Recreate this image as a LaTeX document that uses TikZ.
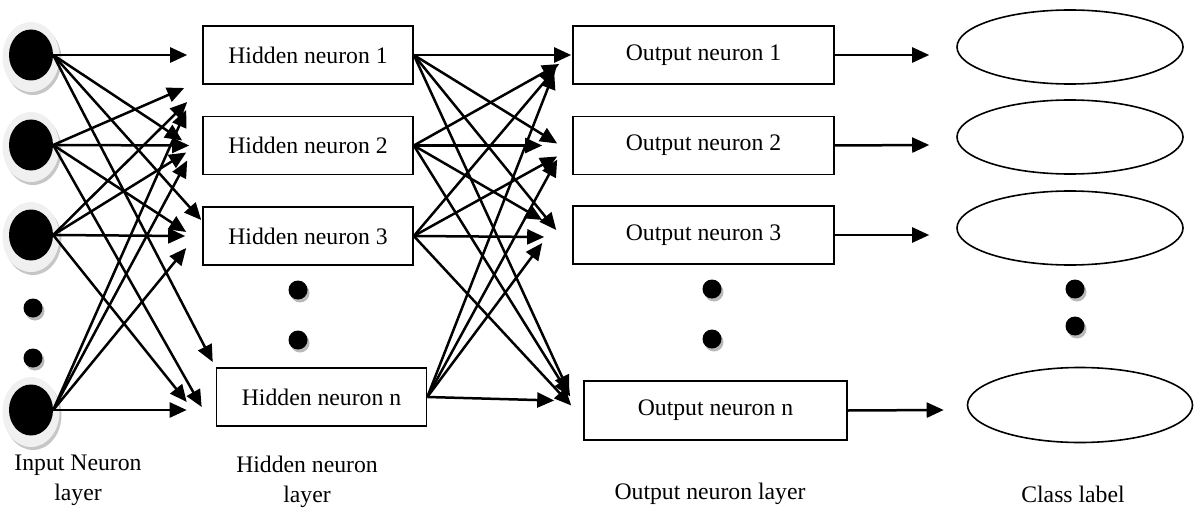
\documentclass[tikz,border=0pt]{standalone}
\usepackage{fontspec}
\setmainfont{Liberation Serif}
\usetikzlibrary{arrows.meta, shapes.geometric, shadows}

\begin{document}
\begin{tikzpicture}[x=1pt, y=-1pt, font=\fontsize{23.7}{30}\selectfont]
\tikzstyle{halo}=[ellipse, minimum width=57pt, minimum height=70pt, fill=gray!12, drop shadow={shadow xshift=2pt, shadow yshift=-3pt, fill=gray!45, opacity=1}]
\tikzstyle{inp}=[ellipse, minimum width=44pt, minimum height=51pt, inner sep=0pt, fill=black]
\tikzstyle{dot}=[circle, minimum size=19pt, inner sep=0pt, fill=black, drop shadow={shadow xshift=2pt, shadow yshift=-3pt, fill=gray!55, opacity=1}]
\tikzstyle{neuron}=[rectangle, draw=black, line width=1.6pt, minimum width=210pt, minimum height=58pt]
\tikzstyle{cls}=[ellipse, draw=black, line width=1.6pt, minimum width=226pt, minimum height=74pt]
\tikzstyle{connect}=[-{Triangle[length=17pt, width=15pt]}, line width=2.5pt]
\tikzstyle{caption}=[align=center]
\useasboundingbox (0,0) rectangle (1198,508);
% input layer
\node[halo] (i1h) at (31,57) {};
\node[halo] (i2h) at (31,147) {};
\node[halo] (i3h) at (31,237) {};
\node[halo] (i4h) at (31,412) {};
\node[inp] (i1) at (31,55) {};
\node[inp] (i2) at (31,145) {};
\node[inp] (i3) at (31,235) {};
\node[inp] (i4) at (31,410) {};
\node[dot] (id1) at (33,308) {};
\node[dot] (id2) at (33,358) {};
\node[caption] (itxt) at (78,480) {Input Neuron\\layer};
% hidden layer
\node[neuron] (h1) at (308,55) {Hidden neuron 1};
\node[neuron] (h2) at (308,145.5) {Hidden neuron 2};
\node[neuron] (h3) at (308,236) {Hidden neuron 3};
\node[neuron] (h4) at (321.5,397) {Hidden neuron n};
\node[dot] (hd1) at (298,290) {};
\node[dot] (hd2) at (298,340) {};
\node[caption] (htxt) at (307,482) {Hidden neuron\\layer};
% output layer
\node[neuron, minimum width=261pt] (o1) at (703.5,55) {Output neuron 1};
\node[neuron, minimum width=261pt] (o2) at (703.5,145.5) {Output neuron 2};
\node[neuron, minimum width=261pt] (o3) at (703.5,235) {Output neuron 3};
\node[neuron, minimum width=263pt, minimum height=59pt] (o4) at (715.5,410.5) {Output neuron n};
\node[dot] (od1) at (712,289) {};
\node[dot] (od2) at (712,339) {};
\node[caption] (otxt) at (710,494) {Output neuron layer};
% class labels
\node[cls] (c1) at (1070,47) {};
\node[cls] (c2) at (1070,137) {};
\node[cls] (c3) at (1070,228) {};
\node[cls, minimum width=225pt, minimum height=75pt] (c4) at (1080,405) {};
\node[dot] (cd1) at (1075,289) {};
\node[dot] (cd2) at (1075,326) {};
\node[caption] (ctxt) at (1073,494) {Class label};
% input -> hidden
\path (i1.east) edge [connect] ([shift={(-15,0)}]h1.west);
\path (i1.east) edge [connect] ([shift={(-20,-5)}]h2.west);
\path (i1.east) edge [connect] ([shift={(-1,-16)}]h3.west);
\path (i1.east) edge [connect] ([shift={(-3,-35)}]h4.west);
\path (i2.east) edge [connect] ([shift={(-18,33)}]h1.west);
\path (i2.east) edge [connect] ([shift={(-13,0)}]h2.west);
\path (i2.east) edge [connect] ([shift={(-16,-4)}]h3.west);
\path (i2.east) edge [connect] ([shift={(-14,10)}]h4.west);
\path (i3.east) edge [connect] ([shift={(-15,47)}]h1.west);
\path (i3.east) edge [connect] ([shift={(-16,7)}]h2.west);
\path (i3.east) edge [connect] ([shift={(-17,0)}]h3.west);
\path (i3.east) edge [connect] ([shift={(-29,5)}]h4.west);
\path (i4.east) edge [connect] ([shift={(-16,55)}]h1.west);
\path (i4.east) edge [connect] ([shift={(-15,15)}]h2.west);
\path (i4.east) edge [connect] ([shift={(-16,12)}]h3.west);
\path (i4.east) edge [connect] ([shift={(-29,13)}]h4.west);
% hidden -> output
\path (h1.east) edge [connect] ([shift={(-1,0)}]o1.west);
\path (h1.east) edge [connect] ([shift={(-15,-2)}]o2.west);
\path (h1.east) edge [connect] ([shift={(-16,-5)}]o3.west);
\path (h1.east) edge [connect] ([shift={(-14,-18)}]o4.west);
\path (h2.east) edge [connect] ([shift={(-13,9)}]o1.west);
\path (h2.east) edge [connect] ([shift={(-30,0)}]o2.west);
\path (h2.east) edge [connect] ([shift={(-30,-15)}]o3.west);
\path (h2.east) edge [connect] ([shift={(-13,-14)}]o4.west);
\path (h3.east) edge [connect] ([shift={(-16,13)}]o1.west);
\path (h3.east) edge [connect] ([shift={(-15,11)}]o2.west);
\path (h3.east) edge [connect] ([shift={(-28,2)}]o3.west);
\path (h3.east) edge [connect] ([shift={(-12,-5)}]o4.west);
\path (h4.east) edge [connect] ([shift={(-18,17)}]o1.west);
\path (h4.east) edge [connect] ([shift={(-15,14)}]o2.west);
\path (h4.east) edge [connect] ([shift={(-30,8)}]o3.west);
\path (h4.east) edge [connect] ([shift={(-29,-10)}]o4.west);
% output -> class
\path (o1.east) edge [connect] ([shift={(-27,8)}]c1.west);
\path (o2.east) edge [connect] ([shift={(-27,8)}]c2.west);
\path (o3.east) edge [connect] ([shift={(-27,7)}]c3.west);
\path (o4.east) edge [connect] ([shift={(-23,5)}]c4.west);
\end{tikzpicture}
\end{document}
